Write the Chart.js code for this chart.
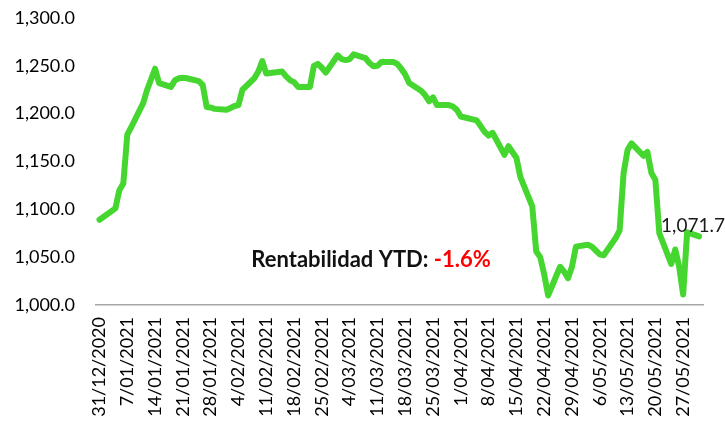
<!DOCTYPE html>
<html>
<head>
<meta charset="utf-8">
<script src="https://cdn.jsdelivr.net/npm/chart.js@4.4.1/dist/chart.umd.min.js"></script>
<style>
  html, body { margin: 0; padding: 0; background: #ffffff; }
  #wrap { width: 725px; height: 421px; position: relative; }
</style>
</head>
<body>
<div id="wrap"><canvas id="c" width="725" height="421"></canvas></div>
<script>
const dates = [
  '31/12/2020',
  '04/01/2021','05/01/2021','06/01/2021','07/01/2021','08/01/2021',
  '11/01/2021','12/01/2021','13/01/2021','14/01/2021','15/01/2021',
  '18/01/2021','19/01/2021','20/01/2021','21/01/2021','22/01/2021',
  '25/01/2021','26/01/2021','27/01/2021','28/01/2021','29/01/2021',
  '01/02/2021','02/02/2021','03/02/2021','04/02/2021','05/02/2021',
  '08/02/2021','09/02/2021','10/02/2021','11/02/2021','12/02/2021',
  '15/02/2021','16/02/2021','17/02/2021','18/02/2021','19/02/2021',
  '22/02/2021','23/02/2021','24/02/2021','25/02/2021','26/02/2021',
  '01/03/2021','02/03/2021','03/03/2021','04/03/2021','05/03/2021',
  '08/03/2021','09/03/2021','10/03/2021','11/03/2021','12/03/2021',
  '15/03/2021','16/03/2021','17/03/2021','18/03/2021','19/03/2021',
  '22/03/2021','23/03/2021','24/03/2021','25/03/2021','26/03/2021',
  '29/03/2021','30/03/2021','31/03/2021','01/04/2021',
  '05/04/2021','06/04/2021','07/04/2021','08/04/2021','09/04/2021',
  '12/04/2021','13/04/2021','14/04/2021','15/04/2021','16/04/2021',
  '19/04/2021','20/04/2021','21/04/2021','22/04/2021','23/04/2021',
  '26/04/2021','27/04/2021','28/04/2021','29/04/2021','30/04/2021',
  '03/05/2021','04/05/2021','05/05/2021','06/05/2021','07/05/2021',
  '10/05/2021','11/05/2021','12/05/2021','13/05/2021','14/05/2021',
  '17/05/2021','18/05/2021','19/05/2021','20/05/2021','21/05/2021',
  '24/05/2021','25/05/2021','26/05/2021','27/05/2021','28/05/2021',
  '31/05/2021'
];
const values = [
  1089.1,
  1101, 1120, 1127, 1178, 1186,
  1211, 1225, 1236, 1247, 1232,
  1228, 1235, 1237, 1237.5, 1237,
  1234, 1230, 1207, 1206.5, 1205,
  1204, 1206, 1208, 1209, 1225,
  1237, 1244, 1255, 1242, 1242.5,
  1244, 1239, 1235, 1233, 1228,
  1228, 1250, 1252, 1248, 1243,
  1261, 1257, 1256, 1257, 1262,
  1258, 1253, 1249.5, 1250, 1254,
  1254, 1252, 1247, 1241, 1232,
  1224, 1219.5, 1213, 1217, 1209,
  1209, 1207.5, 1204, 1197,
  1193, 1187, 1181, 1177, 1180,
  1157, 1166, 1160, 1154, 1134,
  1103, 1056, 1050, 1032, 1010,
  1040, 1035, 1028, 1040, 1061,
  1063, 1061, 1057, 1053, 1052,
  1070, 1078, 1138, 1162, 1169,
  1156, 1160, 1138, 1131, 1075,
  1043, 1058, 1040, 1011, 1076,
  1071.7
];
const tickLabels = [
  '31/12/2020','7/01/2021','14/01/2021','21/01/2021','28/01/2021',
  '4/02/2021','11/02/2021','18/02/2021','25/02/2021','4/03/2021',
  '11/03/2021','18/03/2021','25/03/2021','1/04/2021','8/04/2021',
  '15/04/2021','22/04/2021','29/04/2021','6/05/2021','13/05/2021',
  '20/05/2021','27/05/2021'
];
const yTicks = [1000, 1050, 1100, 1150, 1200, 1250, 1300];
const annotationLabel = 'Rentabilidad YTD: ';

function dayOffset(s) {
  const [d, m, y] = s.split('/').map(Number);
  return Math.round((Date.UTC(y, m - 1, d) - Date.UTC(2020, 11, 31)) / 86400000);
}
const fmt = v => Number(v).toLocaleString('en-US', { minimumFractionDigits: 1, maximumFractionDigits: 1 });

const points = dates.map((s, i) => ({ x: dayOffset(s), y: values[i] }));
const ytd = (values[values.length - 1] / values[0] - 1) * 100;

const FONT = 'Lato, "Open Sans", sans-serif';

const overlay = {
  id: 'overlay',
  afterDatasetsDraw(chart) {
    const { ctx, scales } = chart;
    ctx.save();
    ctx.font = 'bold 22px ' + FONT;
    const part2 = ytd.toFixed(1) + '%';
    const w1 = ctx.measureText(annotationLabel).width;
    const w2 = ctx.measureText(part2).width;
    const cx = scales.x.getPixelForValue(68.4);
    const by = scales.y.getPixelForValue(1040);
    const x0 = cx - (w1 + w2) / 2;
    ctx.textAlign = 'left';
    ctx.textBaseline = 'alphabetic';
    ctx.fillStyle = '#111111';
    ctx.fillText(annotationLabel, x0, by);
    ctx.fillStyle = '#ff0000';
    ctx.fillText(part2, x0 + w1, by);
    const meta = chart.getDatasetMeta(0);
    const last = meta.data[meta.data.length - 1];
    ctx.font = '19px ' + FONT;
    ctx.fillStyle = '#1a1a1a';
    ctx.textAlign = 'center';
    ctx.fillText(fmt(values[values.length - 1]), last.x - 6, last.y - 4);
    ctx.restore();
  }
};

new Chart(document.getElementById('c'), {
  type: 'line',
  data: {
    datasets: [{
      data: points,
      borderColor: '#45d62f',
      borderWidth: 6,
      borderJoinStyle: 'round',
      borderCapStyle: 'round',
      pointRadius: 0,
      tension: 0,
      fill: false
    }]
  },
  options: {
    responsive: false,
    animation: false,
    layout: { padding: { top: 18, right: 22, left: 0, bottom: 0 } },
    plugins: { legend: { display: false }, tooltip: { enabled: false } },
    scales: {
      x: {
        type: 'linear',
        min: -0.88,
        max: 152,
        afterBuildTicks: s => { s.ticks = tickLabels.map(l => ({ value: dayOffset(l) })); },
        afterFit: s => { s.height = 116; s.paddingLeft = 0; s.paddingRight = 0; },
        ticks: {
          autoSkip: false,
          maxRotation: 90,
          minRotation: 90,
          padding: 12,
          color: '#000000',
          font: { family: FONT, size: 18 },
          callback: (v, i) => tickLabels[i]
        },
        grid: { display: false, drawTicks: false },
        border: { display: true, color: '#a6a6a6', width: 1.5 }
      },
      y: {
        min: 1000,
        max: 1300,
        afterBuildTicks: s => { s.ticks = yTicks.map(v => ({ value: v })); },
        afterFit: s => { s.width = 96; s.paddingTop = 0; s.paddingBottom = 0; },
        ticks: {
          padding: 21,
          color: '#000000',
          font: { family: FONT, size: 18 },
          callback: v => fmt(v)
        },
        grid: { display: false, drawTicks: false },
        border: { display: false }
      }
    }
  },
  plugins: [overlay]
});
</script>
</body>
</html>
